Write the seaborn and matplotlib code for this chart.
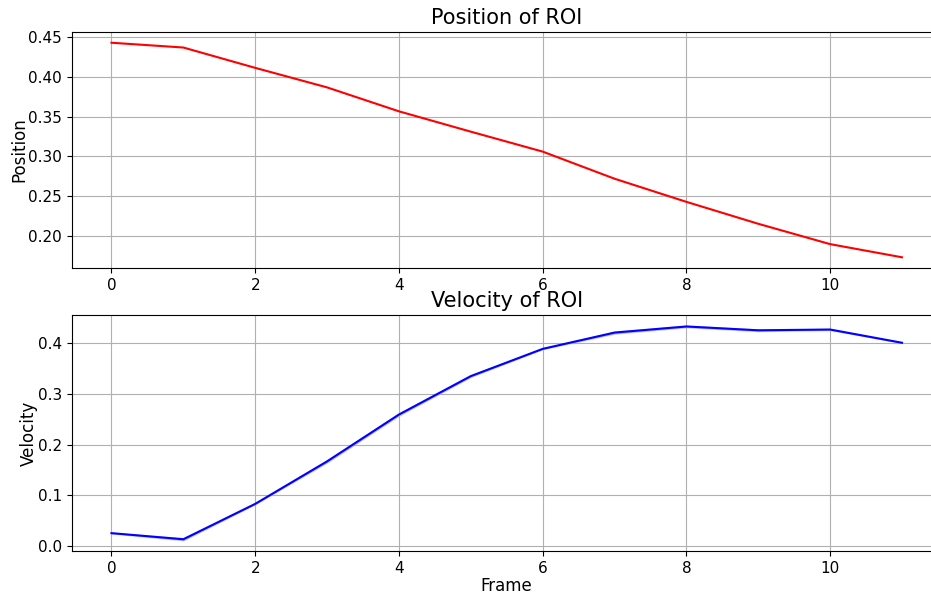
import matplotlib
matplotlib.use("Agg")
import matplotlib.pyplot as plt
import numpy as np
import pandas as pd
import seaborn as sns

# Tracked region-of-interest data per frame
frames = [0, 1, 2, 3, 4, 5, 6, 7, 8, 9, 10, 11]
position = [0.4425, 0.4365, 0.4110, 0.3865, 0.3565, 0.3310, 0.3060, 0.2720,
            0.2430, 0.2155, 0.1900, 0.1735]
# Two velocity estimates per frame (their spread forms the band)
velocity_a = [0.0265, 0.0160, 0.0840, 0.1690, 0.2610, 0.3360, 0.3885, 0.4220,
              0.4335, 0.4260, 0.4270, 0.4000]
velocity_b = [0.0255, 0.0120, 0.0830, 0.1650, 0.2570, 0.3330, 0.3875, 0.4180,
              0.4305, 0.4230, 0.4250, 0.4000]

pos_df = pd.DataFrame({"Frame": frames, "Position": position})
vel_df = pd.DataFrame({
    "Frame": frames + frames,
    "Velocity": velocity_a + velocity_b,
})

fig = plt.figure(figsize=(9.31, 5.96), dpi=100)
ax1 = fig.add_axes([0.0773, 0.5503, 0.934, 0.396])
ax2 = fig.add_axes([0.0773, 0.0755, 0.934, 0.396])

sns.lineplot(data=pos_df, x="Frame", y="Position", color="red", ax=ax1)
ax1.set_title("Position of ROI", fontsize=15)
ax1.set_xlabel("")
ax1.set_ylabel("Position", fontsize=12, labelpad=0)
ax1.grid(True)

sns.lineplot(data=vel_df, x="Frame", y="Velocity", color="blue",
             errorbar=("pi", 100), ax=ax2)
ax2.set_title("Velocity of ROI", fontsize=15)
ax2.set_xlabel("Frame", fontsize=12, labelpad=1)
ax2.set_ylabel("Velocity", fontsize=12, labelpad=0)
ax2.grid(True)

for ax in (ax1, ax2):
    ax.set_xticks([0, 2, 4, 6, 8, 10])
    ax.tick_params(labelsize=11)

fig.savefig("out.png", dpi=100)
